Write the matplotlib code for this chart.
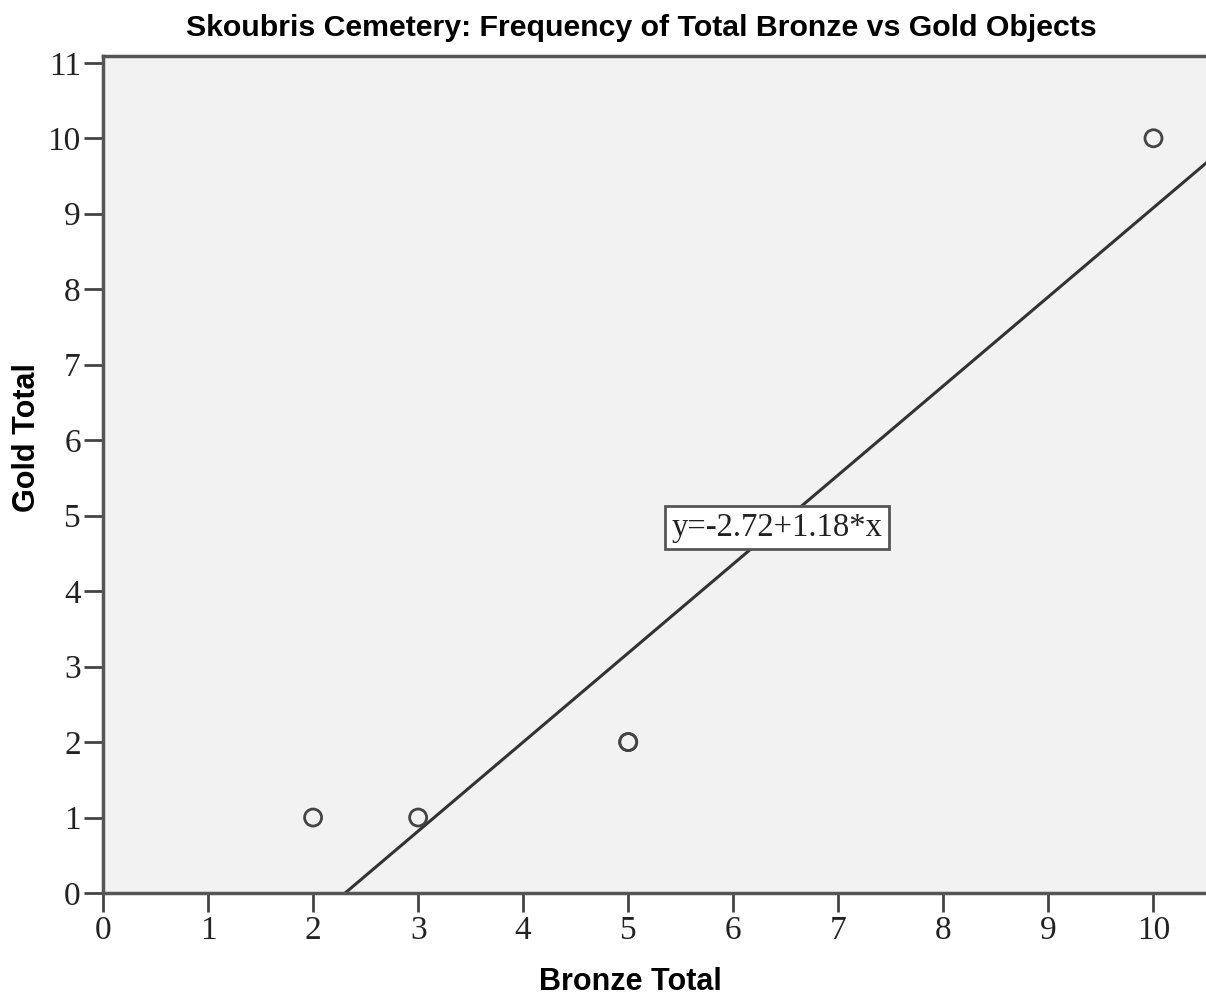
import matplotlib.pyplot as plt

bronze = [2, 3, 5, 5, 10]
gold = [1, 1, 2, 2, 10]
intercept = -2.72
slope = 1.18
x_ticks = list(range(0, 11))
y_ticks = list(range(0, 12))

fig = plt.figure(figsize=(12.06, 9.98), dpi=100)
ax = fig.add_axes([0.0854, 0.1052, 0.9146, 0.8387])
ax.set_facecolor('#f2f2f2')

ax.scatter(bronze, gold, s=150, facecolors='none', edgecolors='#444444', linewidths=2, zorder=3)

line_x = [0, 10.5]
line_y = [intercept + slope * v for v in line_x]
ax.plot(line_x, line_y, color='#333333', linewidth=2.2, zorder=2)

ax.text(6.42, 4.84, 'y=-2.72+1.18*x', family='Liberation Serif', fontsize=23.5,
        ha='center', va='center', color='#222222',
        bbox=dict(boxstyle='square,pad=0.2', facecolor='white', edgecolor='#555555', linewidth=2))

ax.set_xlim(0, 10.5)
ax.set_ylim(0, 11.09)
ax.set_xticks(x_ticks)
ax.set_yticks(y_ticks)
ax.tick_params(axis='both', direction='out', length=14, width=2, color='#444444',
               labelsize=24, labelcolor='#222222', pad=2)
for lab in ax.get_xticklabels() + ax.get_yticklabels():
    lab.set_family('Liberation Serif')

for side in ['left', 'bottom', 'top']:
    ax.spines[side].set_color('#555555')
    ax.spines[side].set_linewidth(2.5)
ax.spines['right'].set_visible(False)

fig.text(0.532, 0.972, 'Skoubris Cemetery: Frequency of Total Bronze vs Gold Objects',
         family='Liberation Sans', fontweight='bold', fontsize=21.8, ha='center', va='center')
fig.text(0.523, 0.016, 'Bronze Total', family='Liberation Sans', fontweight='bold',
         fontsize=22, ha='center', va='center')
fig.text(0.022, 0.562, 'Gold Total', family='Liberation Sans', fontweight='bold',
         fontsize=22, ha='center', va='center', rotation=90)

fig.savefig('out.png', dpi=100)
